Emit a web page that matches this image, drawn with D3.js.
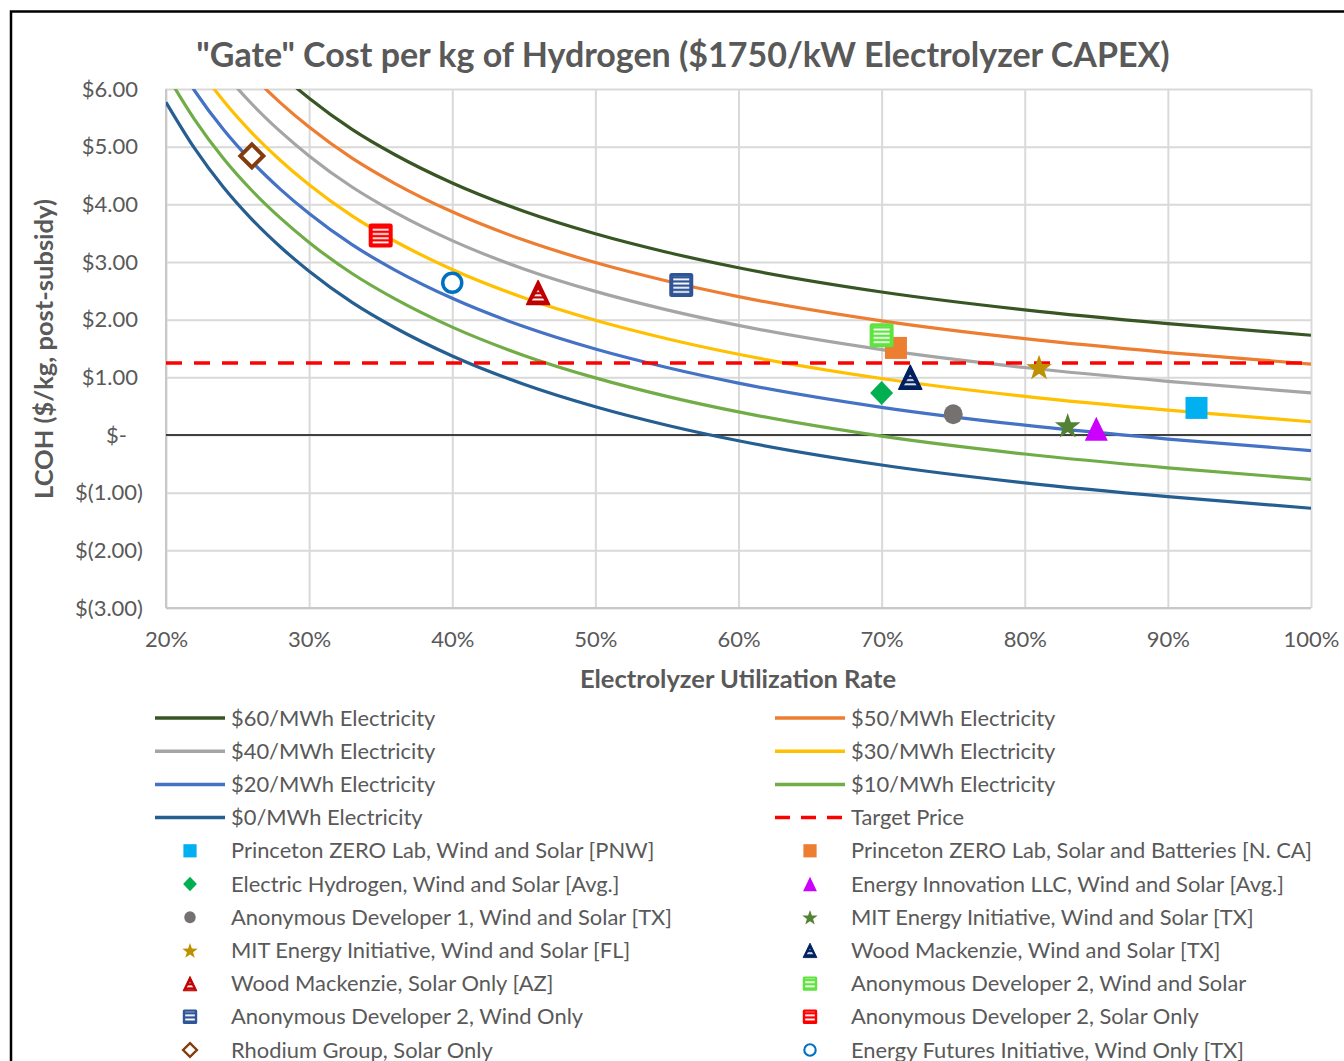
<!DOCTYPE html>
<html>
<head>
<meta charset="utf-8">
<script src="https://cdn.jsdelivr.net/npm/d3@7"></script>
<style>
  body { margin: 0; background: #fff; }
  svg { display: block; font-family: Lato, "Open Sans", sans-serif; }
</style>
</head>
<body>
<svg id="chart" width="1344" height="1061"></svg>
<script>
// utilization rate (%) at which the curves were read
var utilization = [20, 22, 24, 26, 28, 30, 33, 36, 40, 45, 50, 55, 60, 70, 80, 90, 100];

// LCOH ($/kg) for each electricity price
var elec60 = [8.77, 7.97, 7.30, 6.74, 6.26, 5.84, 5.30, 4.86, 4.37, 3.88, 3.49, 3.17, 2.90, 2.48, 2.17, 1.93, 1.73];
var elec50 = [8.27, 7.47, 6.80, 6.24, 5.76, 5.34, 4.80, 4.36, 3.87, 3.38, 2.99, 2.67, 2.40, 1.98, 1.67, 1.43, 1.23];
var elec40 = [7.77, 6.97, 6.30, 5.74, 5.26, 4.84, 4.30, 3.86, 3.37, 2.88, 2.49, 2.17, 1.90, 1.48, 1.17, 0.93, 0.73];
var elec30 = [7.27, 6.47, 5.80, 5.24, 4.76, 4.34, 3.80, 3.36, 2.87, 2.38, 1.99, 1.67, 1.40, 0.98, 0.67, 0.43, 0.23];
var elec20 = [6.77, 5.97, 5.30, 4.74, 4.26, 3.84, 3.30, 2.86, 2.37, 1.88, 1.49, 1.17, 0.90, 0.48, 0.17, -0.07, -0.27];
var elec10 = [6.27, 5.47, 4.80, 4.24, 3.76, 3.34, 2.80, 2.36, 1.87, 1.38, 0.99, 0.67, 0.40, -0.02, -0.33, -0.57, -0.77];
var elec0  = [5.77, 4.97, 4.30, 3.74, 3.26, 2.84, 2.30, 1.86, 1.37, 0.88, 0.49, 0.17, -0.10, -0.52, -0.83, -1.07, -1.27];

var lineNames = ["$60/MWh Electricity", "$50/MWh Electricity", "$40/MWh Electricity", "$30/MWh Electricity",
                 "$20/MWh Electricity", "$10/MWh Electricity", "$0/MWh Electricity"];
var lineValues = [elec60, elec50, elec40, elec30, elec20, elec10, elec0];

var targetName = "Target Price";
var targetPrice = 1.25;

// studies (legend order)
var studyNames = [
  "Princeton ZERO Lab, Wind and Solar [PNW]",
  "Princeton ZERO Lab, Solar and Batteries [N. CA]",
  "Electric Hydrogen, Wind and Solar [Avg.]",
  "Energy Innovation LLC, Wind and Solar [Avg.]",
  "Anonymous Developer 1, Wind and Solar [TX]",
  "MIT Energy Initiative, Wind and Solar [TX]",
  "MIT Energy Initiative, Wind and Solar [FL]",
  "Wood Mackenzie, Wind and Solar [TX]",
  "Wood Mackenzie, Solar Only [AZ]",
  "Anonymous Developer 2, Wind and Solar",
  "Anonymous Developer 2, Wind Only",
  "Anonymous Developer 2, Solar Only",
  "Rhodium Group, Solar Only",
  "Energy Futures Initiative, Wind Only [TX]"
];
var studyUtil = [92, 71, 70, 85, 75, 83, 81, 72, 46, 70, 56, 35, 26, 40];
var studyCost = [0.47, 1.51, 0.73, 0.11, 0.36, 0.17, 1.18, 1.00, 2.47, 1.73, 2.60, 3.46, 4.84, 2.64];

var xTicks = [20, 30, 40, 50, 60, 70, 80, 90, 100];
var yTicks = [-3, -2, -1, 0, 1, 2, 3, 4, 5, 6];

// styles
var lineColors = ["#375623", "#ED7D31", "#A5A5A5", "#FFC000", "#4472C4", "#70AD47", "#255E91"];
var studyStyle = [
  {shape: "square", color: "#00B0F0"},
  {shape: "square", color: "#ED7D31"},
  {shape: "diamond", color: "#00B050"},
  {shape: "triangle", color: "#CC00FF"},
  {shape: "circle", color: "#767171"},
  {shape: "star", color: "#548235"},
  {shape: "star", color: "#BF9000"},
  {shape: "stripeTriangle", color: "#002060"},
  {shape: "stripeTriangle", color: "#C00000"},
  {shape: "stripeSquare", color: "#5FE43F"},
  {shape: "stripeSquare", color: "#2F5597"},
  {shape: "stripeSquare", color: "#FF0000"},
  {shape: "openDiamond", color: "#843C0C"},
  {shape: "openCircle", color: "#0070C0"}
];
var textColor = "#595959";

var svg = d3.select("#chart");
svg.append("rect").attr("width", 1344).attr("height", 1061).attr("fill", "#fff");

var x = d3.scaleLinear().domain([20, 100]).range([166, 1311]);
var y = d3.scaleLinear().domain([-3, 6]).range([608, 89]);

var defs = svg.append("defs");
defs.append("clipPath").attr("id", "plotClip")
  .append("rect").attr("x", 166).attr("y", 89).attr("width", 1311 - 166).attr("height", 608 - 89);

// stripe patterns for the hatched markers
studyStyle.forEach(function(s, i){
  if (s.shape.indexOf("stripe") === 0) {
    var p = defs.append("pattern").attr("id", "stripe" + i)
      .attr("patternUnits", "userSpaceOnUse").attr("width", 8).attr("height", 4.2).attr("y", 0.6);
    p.append("rect").attr("width", 8).attr("height", 4.2).attr("fill", s.color);
    p.append("rect").attr("y", 1.2).attr("width", 8).attr("height", 1.8).attr("fill", "#fff");
  }
});

// outer frame
svg.append("rect").attr("x", 11).attr("y", 11.5).attr("width", 1400).attr("height", 1100)
  .attr("fill", "none").attr("stroke", "#000").attr("stroke-width", 2.5);

// title
svg.append("text").attr("x", 683).attr("y", 67).attr("text-anchor", "middle")
  .attr("fill", textColor).style("font-size", "34px").style("font-weight", "bold")
  .text('"Gate" Cost per kg of Hydrogen ($1750/kW Electrolyzer CAPEX)');

// gridlines
svg.append("g").attr("transform", "translate(0,608)")
  .call(d3.axisBottom(x).tickValues(xTicks).tickSize(-(608 - 89)).tickFormat(""))
  .call(g => g.select(".domain").remove())
  .selectAll("line").attr("stroke", "#D9D9D9").attr("stroke-width", 2);
svg.append("g").attr("transform", "translate(166,0)")
  .call(d3.axisLeft(y).tickValues(yTicks).tickSize(-(1311 - 166)).tickFormat(""))
  .call(g => g.select(".domain").remove())
  .selectAll("line").attr("stroke", "#D9D9D9").attr("stroke-width", 2);

// axis lines
svg.append("line").attr("x1", 166).attr("x2", 166).attr("y1", 89).attr("y2", 608)
  .attr("stroke", "#C8C8C8").attr("stroke-width", 2);
svg.append("line").attr("x1", 166).attr("x2", 1311).attr("y1", 608).attr("y2", 608)
  .attr("stroke", "#C8C8C8").attr("stroke-width", 2);
svg.append("line").attr("x1", 166).attr("x2", 1311).attr("y1", y(0)).attr("y2", y(0))
  .attr("stroke", "#404040").attr("stroke-width", 1.8);

// tick labels
function accounting(v){
  if (v === 0) return "$-";
  if (v < 0) return "$(" + d3.format(".2f")(-v) + ")";
  return "$" + d3.format(".2f")(v);
}
var yAxis = svg.append("g").attr("transform", "translate(166,0)")
  .call(d3.axisLeft(y).tickValues(yTicks).tickSize(0).tickFormat(accounting));
yAxis.select(".domain").remove();
yAxis.selectAll("text")
  .attr("x", d => d === 0 ? -39 : (d < 0 ? -23 : -28))
  .attr("fill", textColor).style("font-size", "22px").style("font-family", "Lato, sans-serif");

var xAxis = svg.append("g").attr("transform", "translate(0,608)")
  .call(d3.axisBottom(x).tickValues(xTicks).tickSize(0).tickFormat(d => d + "%"));
xAxis.select(".domain").remove();
xAxis.selectAll("text").attr("y", 23)
  .attr("fill", textColor).style("font-size", "22px").style("font-family", "Lato, sans-serif");

// axis titles
svg.append("text").attr("x", 738).attr("y", 688).attr("text-anchor", "middle")
  .attr("fill", textColor).style("font-size", "25.5px").style("font-weight", "bold")
  .text("Electrolyzer Utilization Rate");
svg.append("text").attr("transform", "translate(53,349) rotate(-90)").attr("text-anchor", "middle")
  .attr("fill", textColor).style("font-size", "25.5px").style("font-weight", "bold")
  .text("LCOH ($/kg, post-subsidy)");

// curves
var plot = svg.append("g").attr("clip-path", "url(#plotClip)");
var line = d3.line()
  .x((d, i) => x(utilization[i]))
  .y(d => y(d))
  .curve(d3.curveMonotoneX);

lineValues.forEach(function(vals, i){
  plot.append("path").attr("d", line(vals))
    .attr("fill", "none").attr("stroke", lineColors[i]).attr("stroke-width", 3.2);
});

// target price
plot.append("line").attr("x1", x(20)).attr("x2", x(100)).attr("y1", y(targetPrice)).attr("y2", y(targetPrice))
  .attr("stroke", "#FF0000").attr("stroke-width", 3.5).attr("stroke-dasharray", "16,12");

// marker drawing
function starPath(R){
  var pts = [];
  for (var k = 0; k < 10; k++) {
    var r = k % 2 === 0 ? R : R * 0.4;
    var a = -Math.PI / 2 + k * Math.PI / 5;
    pts.push([r * Math.cos(a), r * Math.sin(a) + R * 0.1]);
  }
  return "M" + pts.map(p => p.join(",")).join("L") + "Z";
}
function drawMarker(g, i, k){
  var s = studyStyle[i], c = s.color;
  switch (s.shape) {
    case "square":
      g.append("rect").attr("x", -11 * k).attr("y", -11 * k).attr("width", 22 * k).attr("height", 22 * k).attr("fill", c);
      break;
    case "diamond":
      g.append("path").attr("d", `M0,${-12 * k}L${11.5 * k},0L0,${12 * k}L${-11.5 * k},0Z`).attr("fill", c);
      break;
    case "triangle":
      g.append("path").attr("d", `M0,${-12 * k}L${11.5 * k},${12 * k}L${-11.5 * k},${12 * k}Z`).attr("fill", c);
      break;
    case "circle":
      g.append("ellipse").attr("rx", 9.5 * k).attr("ry", 10 * k).attr("fill", c);
      break;
    case "star":
      g.append("path").attr("d", starPath(13.5 * k)).attr("fill", c);
      break;
    case "stripeTriangle":
      g.append("path").attr("d", `M0,${-12 * k}L${11.5 * k},${12 * k}L${-11.5 * k},${12 * k}Z`)
        .attr("fill", c).attr("stroke", c).attr("stroke-width", 1.5 * k).attr("stroke-linejoin", "round");
      g.append("path").attr("d", `M0,${-3 * k}L${7 * k},${9.5 * k}L${-7 * k},${9.5 * k}Z`)
        .attr("fill", "url(#stripe" + i + ")");
      break;
    case "stripeSquare":
      g.append("rect").attr("x", -12 * k).attr("y", -12 * k).attr("width", 24 * k).attr("height", 24 * k)
        .attr("rx", 2.5 * k).attr("fill", c);
      g.append("rect").attr("x", -8 * k).attr("y", -8.5 * k).attr("width", 16 * k).attr("height", 17 * k)
        .attr("fill", "url(#stripe" + i + ")");
      break;
    case "openDiamond":
      g.append("path").attr("d", `M0,${-11.5 * k}L${11.5 * k},0L0,${11.5 * k}L${-11.5 * k},0Z`)
        .attr("fill", "#fff").attr("stroke", c).attr("stroke-width", 4 * k).attr("stroke-linejoin", "miter");
      break;
    case "openCircle":
      g.append("circle").attr("r", 9.5 * k).attr("fill", "#fff").attr("stroke", c).attr("stroke-width", 3.5 * k);
      break;
  }
}

// study markers
var markerG = svg.append("g");
studyNames.forEach(function(name, i){
  var g = markerG.append("g").attr("transform", `translate(${x(studyUtil[i])},${y(studyCost[i])})`);
  drawMarker(g, i, 1);
});

// legend
var legendItems = [];
lineNames.forEach((n, i) => legendItems.push({name: n, kind: "line", i: i}));
legendItems.push({name: targetName, kind: "target"});
studyNames.forEach((n, i) => legendItems.push({name: n, kind: "marker", i: i}));

var legend = svg.append("g");
legendItems.forEach(function(d, j){
  var col = j % 2, row = Math.floor(j / 2);
  var x0 = col === 0 ? 155 : 775;
  var yy = 718 + row * 33.2;
  var g = legend.append("g").attr("transform", `translate(${x0},${yy})`);
  if (d.kind === "line") {
    g.append("line").attr("x1", 0).attr("x2", 70).attr("stroke", lineColors[d.i]).attr("stroke-width", 3.5);
  } else if (d.kind === "target") {
    g.append("line").attr("x1", 0).attr("x2", 71).attr("stroke", "#FF0000").attr("stroke-width", 3.5)
      .attr("stroke-dasharray", "15,11");
  } else {
    var mg = g.append("g").attr("transform", "translate(35,0)");
    drawMarker(mg, d.i, 0.6);
  }
  g.append("text").attr("x", 76).attr("dy", "0.35em")
    .attr("fill", textColor).style("font-size", "21.9px")
    .text(d.name);
});
</script>
</body>
</html>
